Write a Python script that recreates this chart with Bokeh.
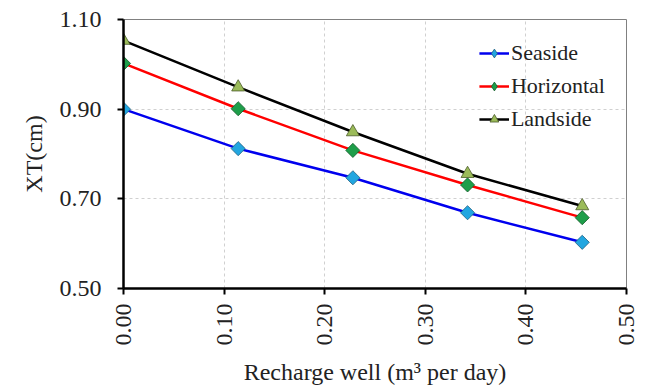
import math
from bokeh.plotting import figure
from bokeh.models import Range1d, FixedTicker, Legend, LegendItem
from bokeh.embed import file_html
from bokeh.resources import INLINE

recharge = [0.0, 0.114, 0.228, 0.342, 0.456]
seaside = [0.900, 0.812, 0.747, 0.669, 0.603]
horizontal = [1.002, 0.901, 0.808, 0.731, 0.658]
landside = [1.053, 0.949, 0.849, 0.756, 0.684]
x_ticks = [0.0, 0.1, 0.2, 0.3, 0.4, 0.5]
y_ticks = [0.5, 0.7, 0.9, 1.1]

FONT = "serif"
LEGEND_FONT = "Liberation Serif"

p = figure(width=645, height=389, output_backend="svg", toolbar_location=None,
           x_range=Range1d(0, 0.5), y_range=Range1d(0.5, 1.1),
           min_border_left=123, min_border_right=19, min_border_top=19, min_border_bottom=101)
p.background_fill_color = "white"
p.border_fill_color = "white"
p.outline_line_color = "#808080"
p.outline_line_width = 1

for ax in (p.xaxis[0], p.yaxis[0]):
    ax.axis_line_color = "black"
    ax.axis_line_width = 2.5
    ax.major_tick_line_color = "black"
    ax.major_tick_line_width = 2
    ax.major_tick_out = 6
    ax.major_tick_in = 0
    ax.minor_tick_line_color = None
    ax.major_label_text_font = FONT
    ax.major_label_text_font_size = "24px"
    ax.major_label_text_color = "#222222"
    ax.axis_label_text_font = FONT
    ax.axis_label_text_font_size = "24px"
    ax.axis_label_text_font_style = "normal"
    ax.axis_label_text_color = "#222222"

p.xaxis.ticker = FixedTicker(ticks=x_ticks)
p.yaxis.ticker = FixedTicker(ticks=y_ticks)
p.xaxis.major_label_overrides = {t: f"{t:.2f}" for t in x_ticks}
p.yaxis.major_label_overrides = {t: f"{t:.2f}" for t in y_ticks}
p.xaxis.major_label_orientation = math.pi / 2
p.xaxis.axis_label = "Recharge well (m³ per day)"
p.yaxis.axis_label = "XT(cm)"
p.yaxis.major_label_standoff = 16
p.xaxis.major_label_standoff = 9
p.xaxis.axis_label_standoff = 10
p.yaxis.axis_label_standoff = 10

p.grid.grid_line_color = "#d0d0d0"
p.grid.grid_line_dash = "3 3"
p.grid.grid_line_width = 1

sea_fill, sea_line = "#22a6e0", "#1f6080"
hor_fill, hor_line = "#1e9e4a", "#145a2a"

l1 = p.line(recharge, seaside, line_color="#0000ee", line_width=2.5)
d1 = p.scatter(recharge, seaside, marker="diamond", size=9, fill_color=sea_fill,
               line_color=sea_line, line_width=0.8)
s1 = p.scatter(recharge, seaside, marker="square", angle=math.pi / 4, size=10,
               fill_color=sea_fill, line_color=sea_line, line_width=0.8)
l2 = p.line(recharge, horizontal, line_color="#ff0000", line_width=2.5)
d2 = p.scatter(recharge, horizontal, marker="diamond", size=9, fill_color=hor_fill,
               line_color=hor_line, line_width=0.8)
s2 = p.scatter(recharge, horizontal, marker="square", angle=math.pi / 4, size=10,
               fill_color=hor_fill, line_color=hor_line, line_width=0.8)
l3 = p.line(recharge, landside, line_color="black", line_width=2.5)
s3 = p.scatter(recharge, landside, marker="triangle", size=13, fill_color="#9bbb59",
               line_color="#4a5a28", line_width=0.8)

legend = Legend(
    items=[
        LegendItem(label="Seaside", renderers=[l1, d1]),
        LegendItem(label="Horizontal", renderers=[l2, d2]),
        LegendItem(label="Landside", renderers=[l3, s3]),
    ],
    location="top_right",
    label_text_font=LEGEND_FONT,
    label_text_font_size="22px",
    label_text_color="#222222",
    border_line_color=None,
    background_fill_alpha=0,
    glyph_width=30,
    glyph_height=22,
    label_standoff=2,
    spacing=7,
    padding=3,
    margin=21,
)
p.add_layout(legend)

open("out.html", "w").write(file_html(p, INLINE))
